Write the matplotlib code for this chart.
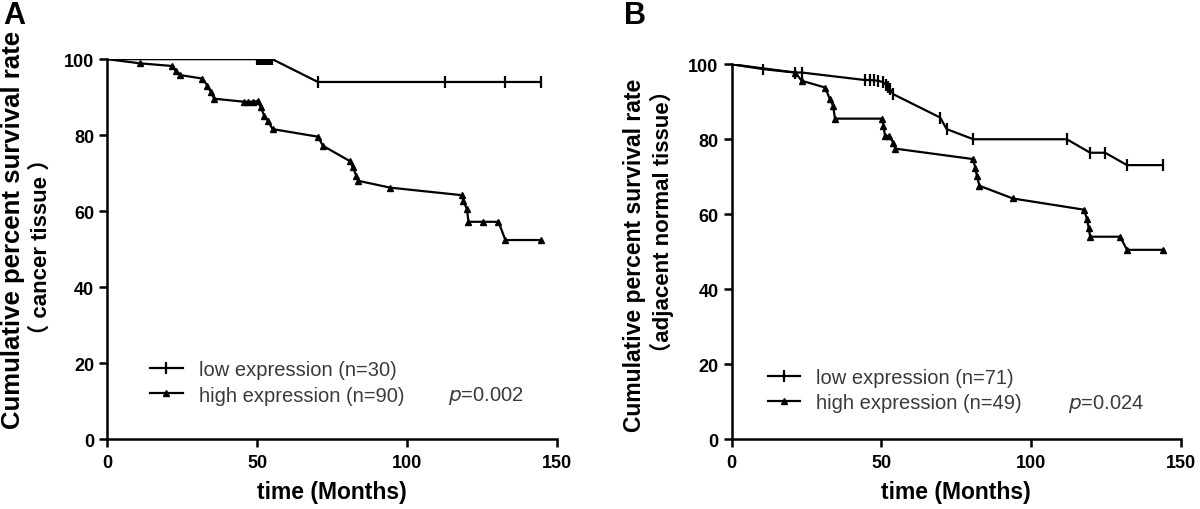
import matplotlib
matplotlib.use("Agg")
import matplotlib.pyplot as plt
from matplotlib.lines import Line2D

plt.rcParams['font.family'] = ['Liberation Sans', 'Noto Sans CJK SC', 'DejaVu Sans']

# panel A - cancer tissue
a_low_t = [0, 50, 50.5, 51, 51.5, 52, 52.5, 53, 53.5, 54, 54.5, 55, 70.2, 112.6, 132.7, 144.5]
a_low_s = [100, 100, 100, 100, 100, 100, 100, 100, 100, 100, 100, 100, 94.0, 94.0, 94.0, 94.0]
a_high_t = [0, 11.0, 21.7, 22.8, 24.4, 31.7, 33.4, 34.5, 35.6, 45.6, 47.0, 48.5, 50.1, 51.2,
            52.3, 53.5, 55.1, 70.2, 71.9, 80.8, 81.9, 83.0, 83.6, 94.2, 118.2, 118.7, 119.9,
            120.4, 125.4, 130.4, 132.7, 144.5]
a_high_s = [100, 98.9, 98.2, 96.9, 95.8, 94.9, 93.0, 91.4, 89.6, 88.8, 88.8, 88.8, 89.0, 87.3,
            85.1, 83.8, 81.6, 79.6, 77.2, 73.2, 71.5, 69.3, 68.0, 66.2, 64.2, 62.7, 60.5,
            57.2, 57.2, 57.2, 52.4, 52.4]

# panel B - adjacent normal tissue
b_low_t = [0, 10.6, 21.2, 23.4, 44.5, 46.2, 47.5, 49.0, 50.6, 51.4, 52.2, 53.0, 54.0, 69.6,
           71.8, 80.7, 111.9, 119.7, 124.7, 132.0, 144.0]
b_low_s = [100, 98.7, 97.8, 97.8, 95.8, 95.8, 95.7, 95.6, 95.2, 94.6, 94.0, 93.3, 92.0, 85.8,
           82.7, 80.0, 80.0, 76.4, 76.4, 73.1, 73.1]
b_high_t = [0, 21.2, 23.4, 31.2, 32.8, 33.9, 34.5, 50.1, 50.7, 51.2, 52.4, 54.0, 54.6, 80.7,
            81.3, 81.9, 82.7, 93.9, 117.7, 118.6, 119.2, 119.7, 129.7, 132.0, 144.0]
b_high_s = [100, 97.8, 95.6, 93.8, 90.7, 88.9, 85.5, 85.5, 83.6, 80.9, 80.9, 79.1, 77.5, 74.7,
            72.4, 70.2, 67.6, 64.2, 61.2, 58.7, 56.4, 54.0, 54.0, 50.5, 50.5]

xticks = [0, 50, 100, 150]
yticks = [0, 20, 40, 60, 80, 100]

fig = plt.figure(figsize=(12, 5.1), dpi=100)
axA = fig.add_axes([0.0894, 0.137, 0.375, 0.745])
axB = fig.add_axes([0.6097, 0.137, 0.3744, 0.735])


def draw(ax, lt, ls, ht, hs, nlow, nhigh, pval, leg_x, leg_y, p_x, p_y):
    ax.plot(lt, ls, color='black', lw=1.6, marker='|', markersize=8, mew=1.6,
            markevery=list(range(1, len(lt))))
    ax.plot(ht, hs, color='black', lw=1.6, marker='^', markersize=5,
            markevery=list(range(1, len(ht))))
    ax.set_xlim(0, 150)
    ax.set_ylim(0, 100)
    ax.set_xticks(xticks)
    ax.set_yticks(yticks)
    for s in ['top', 'right']:
        ax.spines[s].set_visible(False)
    for s in ['left', 'bottom']:
        ax.spines[s].set_linewidth(1.8)
    ax.tick_params(width=1.8, length=6, labelsize=13)
    ax.tick_params(axis='x', pad=5)
    ax.tick_params(axis='y', pad=3.5)
    for lab in ax.get_xticklabels() + ax.get_yticklabels():
        lab.set_fontweight('bold')
    ax.set_xlabel('time (Months)', fontsize=16.5, fontweight='bold', labelpad=6)
    handles = [Line2D([], [], color='black', lw=1.6, marker='|', markersize=8, mew=1.6),
               Line2D([], [], color='black', lw=1.6, marker='^', markersize=4)]
    ax.legend(handles, ['low expression (n=%d)' % nlow, 'high expression (n=%d)' % nhigh],
              loc='upper left', bbox_to_anchor=(leg_x, leg_y), frameon=False,
              fontsize=14.5, handlelength=1.6, handletextpad=0.8, labelspacing=0.3,
              borderpad=0, borderaxespad=0, labelcolor='#3a3a3a')
    ax.text(p_x, p_y, '$\\it{p}$=' + pval, transform=ax.transAxes,
            fontsize=14.5, color='#3a3a3a', va='center')


draw(axA, a_low_t, a_low_s, a_high_t, a_high_s, 30, 90, '0.002', 0.0956, 0.207, 0.758, 0.115)
draw(axB, b_low_t, b_low_s, b_high_t, b_high_s, 71, 49, '0.024', 0.081, 0.19, 0.749, 0.097)

fig.text(13 / 1200, 1 - 230 / 510, 'Cumulative percent survival rate', rotation=90,
         ha='center', va='center', fontsize=18.5, fontweight='bold')
fig.text(41 / 1200, 1 - 247 / 510, '\uff08 cancer tissue \uff09', rotation=90,
         ha='center', va='center', fontsize=16, fontweight='bold')
fig.text(635 / 1200, 1 - 255 / 510, 'Cumulative percent survival rate', rotation=90,
         ha='center', va='center', fontsize=16.5, fontweight='bold')
fig.text(662 / 1200, 1 - 222 / 510, '\uff08adjacent normal tissue\uff09', rotation=90,
         ha='center', va='center', fontsize=16, fontweight='bold')

fig.text(3 / 1200, 1 - 1 / 510, 'A', fontsize=22, fontweight='bold', va='top')
fig.text(624 / 1200, 1 - 1 / 510, 'B', fontsize=22, fontweight='bold', va='top')

fig.savefig('out.png', dpi=100)
